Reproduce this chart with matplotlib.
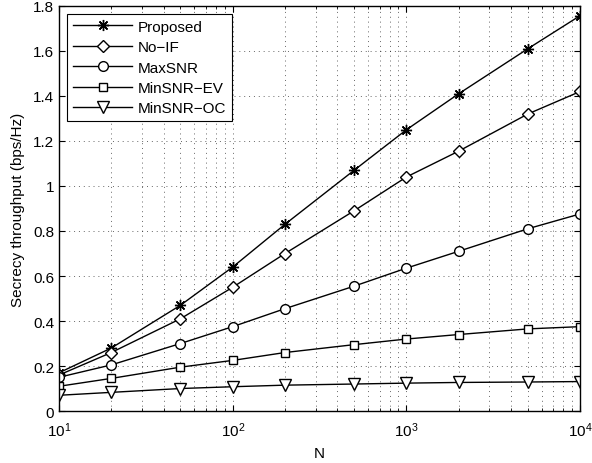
import matplotlib
matplotlib.use('Agg')
import matplotlib.pyplot as plt
from matplotlib.ticker import LogLocator, NullFormatter

plt.rcParams['font.family'] = ['Liberation Sans', 'DejaVu Sans']

N = [10, 20, 50, 100, 200, 500, 1000, 2000, 5000, 10000]
proposed = [0.17, 0.28, 0.47, 0.64, 0.83, 1.07, 1.25, 1.41, 1.61, 1.757]
no_if = [0.16, 0.26, 0.41, 0.55, 0.70, 0.89, 1.04, 1.155, 1.32, 1.42]
max_snr = [0.15, 0.205, 0.30, 0.375, 0.455, 0.555, 0.635, 0.71, 0.81, 0.876]
min_ev = [0.11, 0.145, 0.195, 0.225, 0.26, 0.295, 0.32, 0.34, 0.365, 0.375]
min_oc = [0.07, 0.083, 0.10, 0.108, 0.115, 0.12, 0.124, 0.127, 0.129, 0.131]

fig = plt.figure(figsize=(5.92, 4.64), dpi=100)
ax = fig.add_axes([0.0997, 0.112, 0.8803, 0.873])

ax.plot(N, proposed, 'k-', marker=(8, 2, 0), lw=1, ms=8, mew=1, label='Proposed')
ax.plot(N, no_if, 'k-D', lw=1, ms=6, mfc='white', mew=1, label='No\u2212IF')
ax.plot(N, max_snr, 'k-o', lw=1, ms=7, mfc='white', mew=1, label='MaxSNR')
ax.plot(N, min_ev, 'k-s', lw=1, ms=6, mfc='white', mew=1, label='MinSNR\u2212EV')
ax.plot(N, min_oc, 'k-v', lw=1, ms=8, mfc='white', mew=1, label='MinSNR\u2212OC')

ax.set_xscale('log')
ax.set_xlim(10, 10000)
ax.set_ylim(0, 1.8)
ax.set_yticks([0, 0.2, 0.4, 0.6, 0.8, 1, 1.2, 1.4, 1.6, 1.8])
ax.set_yticklabels(['0', '0.2', '0.4', '0.6', '0.8', '1', '1.2', '1.4', '1.6', '1.8'])
ax.xaxis.set_minor_locator(LogLocator(base=10, subs=range(2, 10)))
ax.xaxis.set_minor_formatter(NullFormatter())

# matlab-like dotted grid
gstyle = dict(linestyle=(0, (1, 4)), color='k', lw=0.7, alpha=0.6)
ax.grid(True, which='major', **gstyle)
ax.grid(True, which='minor', axis='x', **gstyle)
ax.tick_params(which='both', direction='in', top=True, right=True, labelsize=11)
ax.tick_params(axis='x', which='major', pad=7)
ax.tick_params(which='major', length=4)
ax.tick_params(which='minor', length=2)
for s in ax.spines.values():
    s.set_linewidth(1)

ax.set_xlabel('N', fontsize=11, labelpad=5)
ax.set_ylabel('Secrecy throughput (bps/Hz)', fontsize=11, labelpad=6)

leg = ax.legend(loc='upper left', fontsize=11, fancybox=False, edgecolor='k',
                framealpha=1, handlelength=3.9, labelspacing=0.42,
                borderaxespad=0.5, handletextpad=0.35)
leg.get_frame().set_linewidth(0.8)

fig.savefig('out.png', dpi=100)
